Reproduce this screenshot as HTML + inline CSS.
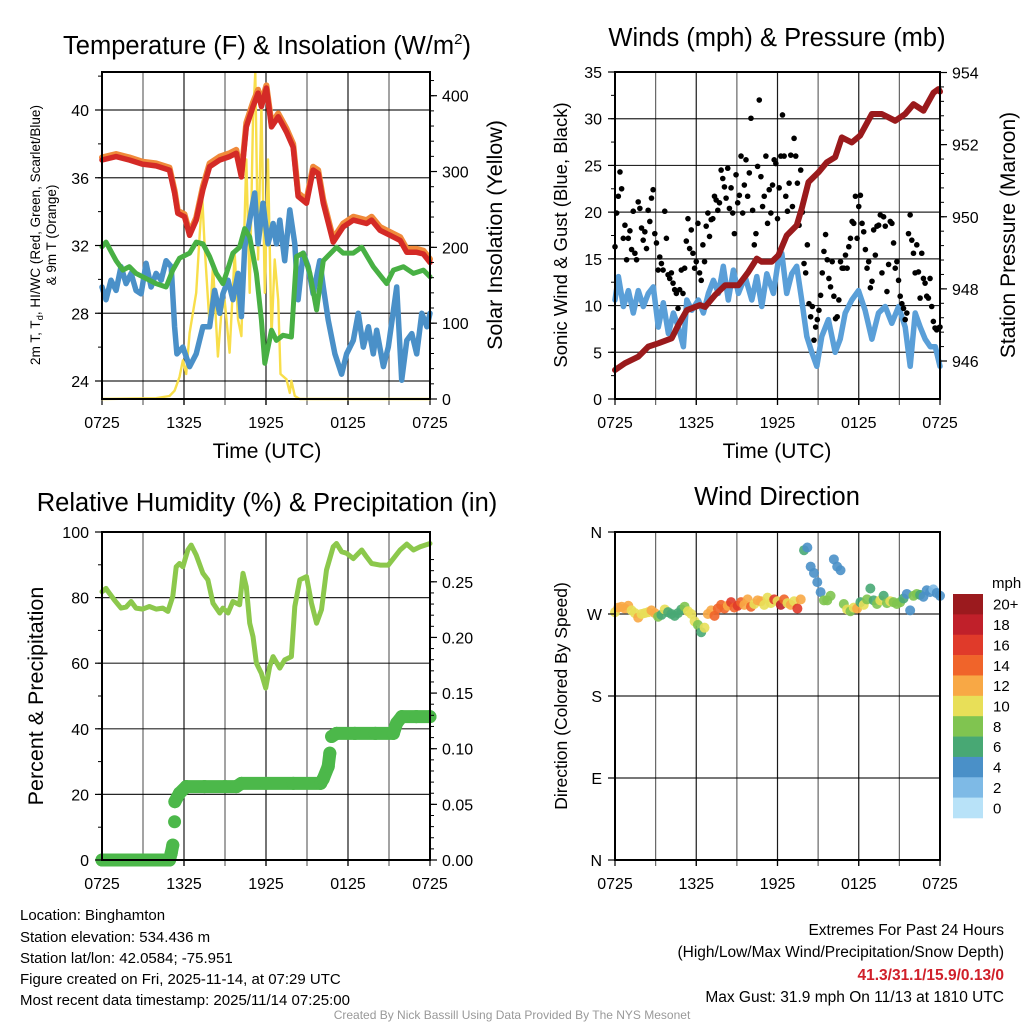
<!DOCTYPE html>
<html><head><meta charset="utf-8">
<style>
html,body{margin:0;padding:0;background:#fff;}
svg{display:block;font-family:"Liberation Sans",sans-serif;}
</style></head>
<body>
<svg id="root" width="1024" height="1024" viewBox="0 0 1024 1024" xmlns="http://www.w3.org/2000/svg">
<g id="static" font-family="Liberation Sans, sans-serif" fill="#000">
<text x="267" y="54" font-size="25.5" text-anchor="middle">Temperature (F) &amp; Insolation (W/m<tspan font-size="15" dy="-10">2</tspan><tspan dy="10">)</tspan></text>
<text x="777" y="46" font-size="25.5" text-anchor="middle">Winds (mph) &amp; Pressure (mb)</text>
<text x="267" y="511" font-size="25.5" text-anchor="middle">Relative Humidity (%) &amp; Precipitation (in)</text>
<text x="777" y="505" font-size="25.5" text-anchor="middle">Wind Direction</text>
<text x="267" y="458" font-size="21" text-anchor="middle">Time (UTC)</text>
<text x="777" y="458" font-size="21" text-anchor="middle">Time (UTC)</text>
<text transform="translate(40,235) rotate(-90)" font-size="13.5" text-anchor="middle">2m T, T<tspan font-size="9.5" dy="3">d</tspan><tspan dy="-3">, HI/WC (Red, Green, Scarlet/Blue)</tspan></text>
<text transform="translate(56,235) rotate(-90)" font-size="13.5" text-anchor="middle">&amp; 9m T (Orange)</text>
<text transform="translate(502,235) rotate(-90)" font-size="21.5" text-anchor="middle">Solar Insolation (Yellow)</text>
<text transform="translate(567,235) rotate(-90)" font-size="18.5" text-anchor="middle">Sonic Wind &amp; Gust (Blue, Black)</text>
<text transform="translate(1015,235) rotate(-90)" font-size="21" text-anchor="middle">Station Pressure (Maroon)</text>
<text transform="translate(43,696) rotate(-90)" font-size="21.5" text-anchor="middle">Percent &amp; Precipitation</text>
<text transform="translate(567,696) rotate(-90)" font-size="17.5" text-anchor="middle">Direction (Colored By Speed)</text>
<g font-size="15">
<text x="20" y="920">Location: Binghamton</text>
<text x="20" y="942">Station elevation: 534.436 m</text>
<text x="20" y="963">Station lat/lon: 42.0584; -75.951</text>
<text x="20" y="984">Figure created on Fri, 2025-11-14, at 07:29 UTC</text>
<text x="20" y="1005">Most recent data timestamp: 2025/11/14 07:25:00</text>
</g>
<g font-size="15.5" text-anchor="end">
<text x="1004" y="935">Extremes For Past 24 Hours</text>
<text x="1004" y="957">(High/Low/Max Wind/Precipitation/Snow Depth)</text>
<text x="1004" y="980" fill="#d0202a" font-weight="bold">41.3/31.1/15.9/0.13/0</text>
<text x="1004" y="1002">Max Gust: 31.9 mph On 11/13 at 1810 UTC</text>
</g>
<text x="512" y="1019" font-size="12" fill="#999" text-anchor="middle">Created By Nick Bassill Using Data Provided By The NYS Mesonet</text>
<text x="992" y="588" font-size="15">mph</text>
</g>
<g id="dyn"></g>
</svg>
<script>
// ---------- DATA ----------
const tempHours = [0,1.03,2.0,2.98,3.96,4.94,5.31,5.55,6.04,6.41,6.89,7.38,7.87,8.61,9.34,9.83,10.2,10.56,11.05,11.42,11.66,12.03,12.4,12.89,13.5,13.99,14.35,14.96,15.45,15.82,16.19,16.92,17.65,18.39,19.36,19.73,20.34,21.08,21.81,22.3,23.03,23.52,24];
const temp2m = [37.05,37.25,37.05,36.8,36.7,36.45,35.1,33.9,33.7,32.6,33.5,35.3,36.65,37.05,37.25,37.45,36.05,39.0,40.2,41.0,40.2,41.3,39.0,39.6,38.7,37.8,34.9,34.5,36.45,36.25,34.5,32.2,33.1,33.5,33.3,33.5,32.9,32.6,32.3,31.6,31.6,31.5,31.0];
const temp9m = [37.2,37.4,37.2,36.95,36.85,36.6,35.25,34.05,33.85,32.75,33.65,35.5,36.85,37.25,37.45,37.65,36.2,39.25,40.45,41.2,40.45,41.45,39.2,39.8,38.9,38.0,35.1,34.7,36.65,36.45,34.7,32.4,33.3,33.7,33.5,33.7,33.1,32.8,32.5,31.8,31.8,31.7,31.2];
const dewHours = [0,0.29,1.03,1.52,2.0,2.49,2.98,3.96,4.69,5.18,5.67,6.41,6.89,7.38,7.87,8.36,8.85,9.1,9.58,10.07,10.44,10.81,11.3,11.66,11.91,12.4,12.76,13.25,13.86,14.23,14.72,15.21,15.7,16.19,17.16,17.65,18.39,19.0,19.85,20.83,21.32,22.05,22.79,23.52,24];
const dewpoint = [31.93,32.2,31.1,30.55,30.75,30.35,30.15,29.75,29.55,30.55,31.25,31.55,32.2,32.1,31.35,30.35,29.75,30.35,31.55,31.9,33.0,32.5,30.35,27.6,25.05,27.0,26.4,26.7,26.6,31.35,31.55,30.35,28.2,31.1,31.9,31.55,31.55,31.9,30.75,29.75,30.55,30.75,30.35,30.55,30.15];
const wcHours = [0,0.29,0.66,1.03,1.39,1.76,2.13,2.49,2.86,3.23,3.59,3.96,4.33,4.69,5.06,5.31,5.48,5.92,6.41,6.89,7.38,7.87,8.24,8.61,8.85,9.22,9.58,9.95,10.2,10.44,10.81,11.17,11.42,11.78,12.15,12.52,12.76,13.01,13.37,13.74,14.11,14.35,14.72,15.09,15.45,15.94,16.19,16.55,17.04,17.53,17.9,18.39,18.75,19.12,19.49,19.85,20.1,20.59,20.95,21.56,21.93,22.3,22.67,23.03,23.4,23.77,24];
const windChill = [29.55,28.8,29.95,29.35,30.75,29.75,30.35,29.35,29.15,30.95,29.55,30.35,29.95,31.1,30.75,27.2,25.6,26.0,24.85,25.6,27.2,27.2,29.35,28.0,29.15,29.95,28.8,30.35,27.8,31.9,33.5,35.1,32.1,34.5,32.1,33.3,32.1,33.5,31.1,34.1,32.1,28.8,31.55,30.75,29.15,31.1,29.55,27.6,25.6,24.4,25.6,26.4,28.0,26.0,27.2,25.6,27.0,24.85,26.0,29.55,24.05,26.4,26.8,25.6,28.0,27.2,28.0];
const solarHours = [0,3.96,4.94,5.31,5.67,5.92,6.16,6.41,6.89,7.14,7.33,7.51,7.87,8.12,8.48,8.73,8.97,9.34,9.71,9.95,10.2,10.37,10.56,10.81,11.05,11.22,11.42,11.66,11.91,12.15,12.4,12.64,12.89,13.06,13.5,13.74,13.86,14.11,14.47,24];
const solar = [0,1,4,11,29,51,33,87,140,215,268,202,97,176,56,113,131,61,193,105,83,193,316,140,369,431,184,387,140,316,83,184,131,33,26,8,24,4,0,0];

const presHours = [0,0.74,1.72,2.46,3.2,4.19,4.68,5.3,6.28,6.65,7.39,8.13,9.11,9.85,10.47,10.84,11.58,12.07,12.68,13.42,13.79,14.29,15.02,15.64,16.26,16.75,17.49,18.1,18.97,19.7,20.69,21.43,22.04,22.78,23.52,23.89,24];
const pressure = [945.75,945.94,946.12,946.4,946.49,946.63,947.0,947.41,947.55,947.5,947.83,948.1,948.1,948.47,948.84,948.75,948.75,948.93,949.48,949.76,950.22,950.96,951.23,951.51,951.65,952.2,952.06,952.25,952.85,952.85,952.66,952.85,953.12,952.94,953.44,953.54,953.47];
const windHours = [0,0.25,0.62,0.99,1.35,1.72,2.09,2.46,2.83,3.2,3.57,3.94,4.31,4.68,5.05,5.3,5.67,6.16,6.53,6.9,7.27,7.64,8.0,8.37,8.74,9.11,9.61,10.1,10.47,10.84,11.21,11.7,12.07,12.32,12.68,13.05,13.42,13.79,14.16,14.53,14.9,15.27,15.76,16.26,16.63,17.0,17.49,17.98,18.47,18.97,19.46,19.95,20.44,20.94,21.43,21.8,22.17,22.54,22.91,23.28,23.65,24];
const windSpeed = [10.6,13.1,9.9,11.6,9.2,11.6,9.9,11.3,12.0,7.7,10.3,7.0,9.2,7.7,5.6,10.6,9.5,10.6,9.2,11.3,12.7,11.3,14.2,10.6,13.8,11.3,13.1,10.6,13.1,9.9,13.4,11.3,14.9,15.6,11.3,13.4,14.2,10.6,6.7,5.0,3.5,6.7,8.5,5.0,6.4,9.2,10.6,11.6,9.5,6.4,9.2,9.9,8.1,9.9,7.7,3.5,9.2,7.7,6.4,5.6,5.6,3.5];
const gustStepHours = 24/196;
const gusts = [16.3,19.9,21.7,24.3,22.5,17.2,18.6,14.9,17.2,18.0,16.0,20.1,15.6,14.9,21.1,20.4,18.3,17.0,17.9,16.1,20.2,19.0,21.5,22.4,17.7,16.7,13.8,15.2,14.5,13.8,20.1,17.2,13.3,12.9,13.5,12.4,11.7,11.3,9.7,11.7,13.8,11.3,14.0,16.9,19.3,16.1,18.1,15.6,14.0,14.7,18.8,13.5,12.7,16.5,14.7,18.5,19.9,17.4,19.2,19.3,21.7,21.3,20.2,21.0,24.5,23.6,22.7,21.5,24.7,20.4,22.6,19.9,17.7,24.0,21.0,21.8,26.0,19.9,22.9,25.6,21.7,24.2,30.05,20.2,16.5,17.7,24.9,32.0,23.8,20.6,21.7,26.0,18.8,22.4,19.9,22.9,25.6,25.2,19.3,22.6,26.0,30.4,26.0,21.7,20.1,23.1,26.1,20.6,27.9,26.0,23.1,18.6,24.5,20.0,14.5,13.5,16.5,10.2,8.8,9.9,6.3,7.7,8.5,9.5,11.1,13.5,15.8,17.6,14.9,12.9,12.0,14.7,11.0,8.6,8.8,10.6,14.7,14.0,14.0,15.4,14.0,16.3,17.2,19.0,18.8,21.7,17.2,20.6,21.8,18.8,17.9,16.0,14.0,14.7,11.9,12.6,18.1,15.4,18.5,18.6,19.7,13.5,19.5,18.5,11.5,14.4,19.0,18.8,16.7,14.0,14.7,12.7,11.0,10.2,9.7,8.5,9.2,17.7,19.7,17.0,15.6,13.5,16.5,13.6,10.8,15.6,12.9,12.4,11.0,10.8,12.9,9.9,8.3,7.6,7.4,7.6,7.7];

const rhHours = [0,0.29,0.54,0.9,1.39,1.76,2.13,2.49,2.98,3.47,3.96,4.45,4.82,5.18,5.43,5.67,5.92,6.28,6.53,6.89,7.38,7.75,8.12,8.61,8.85,9.22,9.58,10.07,10.32,10.56,10.81,11.05,11.3,11.66,11.98,12.27,12.52,13.01,13.37,13.86,14.11,14.47,14.96,15.33,15.7,16.06,16.43,16.92,17.16,17.53,17.9,18.39,19.0,19.36,19.73,20.34,20.95,21.32,21.81,22.3,22.79,23.28,24];
const rh = [81.8,82.8,81.3,79.3,76.8,77.1,78.8,76.8,76.5,77.3,76.5,76.8,75.8,80.4,89.4,90.4,89.4,94.5,96.0,93.0,87.4,85.4,78.3,75.3,76.8,75.3,78.8,77.8,87.4,83.3,72.2,68.1,60.0,56.9,52.4,59.0,62.0,58.5,61.0,62.0,77.3,85.4,86.4,78.3,72.2,76.3,88.4,95.5,96.5,94.0,93.5,91.9,94.5,92.4,90.4,89.9,89.9,91.9,94.5,96.3,94.5,95.5,96.5];
const precipHours = [0,1,2,3,4,4.94,5.06,5.18,5.31,5.33,5.67,6.16,7.5,9,9.83,10.2,12,14,16.0,16.19,16.55,16.67,16.8,17.16,18.5,20,21.32,21.56,21.93,23,24];
const precip = [0,0,0,0,0,0,0.006,0.0134,0.0344,0.0524,0.060,0.0659,0.0659,0.0659,0.0659,0.0689,0.0689,0.0689,0.0689,0.073,0.084,0.096,0.111,0.1138,0.1138,0.1138,0.1138,0.123,0.1288,0.1288,0.1288];

const dirStepHours = 24/98;
const direction = [272,277,278,276,279,274,271,266,270,271,272,274,271,267,269,275,272,270,268,271,275,278,273,270,262,258,250,255,270,274,268,276,280,276,279,283,277,279,283,280,286,278,281,285,284,280,288,282,286,284,280,286,282,280,284,276,286,340,343,322,315,305,294,285,285,290,330,322,318,281,275,273,277,276,283,280,286,298,285,281,285,290,282,284,283,281,283,287,292,274,290,292,291,289,296,294,297,293,290];
const dirSpeed = [11,13,12,13,13,10,11,12,10,10,11,13,12,8,7,10,6,6,6,6,6,8,10,10,10,9,7,10,13,13,15,15,14,15,13,16,14,17,14,13,12,15,10,12,12,10,11,11,16,11,18,15,11,12,10,16,12,7,4,5,4,4,4,8,8,8,4,4,5,8,10,9,11,12,7,10,8,6,7,8,10,6,8,10,8,8,8,6,4,4,8,8,6,4,4,4,3,4,4];
const speedLabels = ["20+","18","16","14","12","10","8","6","4","2","0"];
const speedColors = ["#9b1a1e","#c0202a","#e03a2a","#f0642a","#f8a845","#e8df58","#80c450","#48a874","#4a90c8","#7ebae6","#b8e2f8"];

const timeTickLabels = ["0725","1325","1925","0125","0725"];
const tempTicks = [24,28,32,36,40];
const solarTicks = [0,100,200,300,400];
const windTicks = [0,5,10,15,20,25,30,35];
const presTicks = [946,948,950,952,954];
const rhTicks = [0,20,40,60,80,100];
const precipTicks = [0,0.05,0.10,0.15,0.20,0.25];
const dirTicks = [0,90,180,270,360];
const dirTickLabels = ["N","E","S","W","N"];

// ---------- RENDER ----------
const NS = "http://www.w3.org/2000/svg";
const dyn = document.getElementById("dyn");
function mk(tag, attrs, parent) {
  const e = document.createElementNS(NS, tag);
  for (const k in attrs) e.setAttribute(k, attrs[k]);
  (parent || dyn).appendChild(e);
  return e;
}
function lin(d0, d1, r0, r1) { return v => r0 + (v - d0) / (d1 - d0) * (r1 - r0); }

const panels = {
  temp: {x0:102, x1:430, yt:72, yb:399},
  wind: {x0:615, x1:940, yt:72, yb:399},
  rh:   {x0:102, x1:430, yt:532, yb:860},
  dir:  {x0:615, x1:940, yt:532, yb:860}
};
const TICKFS = 16;

function frame(p, name, withTimeLabels) {
  const g = mk("g", {});
  
  
  const xs = lin(0, 24, p.x0, p.x1);
  for (let h = 3; h < 24; h += 3) {
    const l = mk("line", {x1: xs(h), x2: xs(h), y1: p.yt, y2: p.yb + 6, stroke: "#000", "stroke-width": 1.2, "stroke-opacity": (h % 6 === 0 ? 0.9 : 0.6)}, g);
    
    
  }
  for (let i = 0; i < timeTickLabels.length; i++) {
    const h = i * 6;
    const t = mk("line", {x1: xs(h), x2: xs(h), y1: p.yb, y2: p.yb + 6, stroke: "#000", "stroke-width": 1.2}, g);
    
    
    if (withTimeLabels) {
      const tx = mk("text", {x: xs(h), y: p.yb + 29, "font-size": TICKFS, "text-anchor": "middle"}, g);
      tx.textContent = timeTickLabels[i];
      
      
    }
  }
  return {g, xs};
}
function border(p, name) {
  const r = mk("rect", {x: p.x0, y: p.yt, width: p.x1 - p.x0, height: p.yb - p.yt, fill: "none", stroke: "#000", "stroke-width": 2});
  
  
}
function hgrid(p, ys, ticks, name) {
  ticks.forEach(v => {
    const l = mk("line", {x1: p.x0, x2: p.x1, y1: ys(v), y2: ys(v), stroke: "#000", "stroke-width": 1.2, "stroke-opacity": 0.85});
    
    
  });
}
function leftAxis(p, ys, ticks, labels, minorStep, name) {
  ticks.forEach((v, i) => {
    const l = mk("line", {x1: p.x0 - 7, x2: p.x0, y1: ys(v), y2: ys(v), stroke: "#000", "stroke-width": 1.2});
    
    
    const t = mk("text", {x: p.x0 - 13, y: ys(v) + 6, "font-size": TICKFS, "text-anchor": "end"});
    t.textContent = labels ? labels[i] : String(v);
    
    
  });
  if (minorStep) {
    for (let v = ticks[0] - minorStep; v <= ticks[ticks.length - 1] + minorStep; v += minorStep) {
      const y = ys(v);
      if (y < p.yt - 0.5 || y > p.yb + 0.5) continue;
      const l = mk("line", {x1: p.x0 - 4, x2: p.x0, y1: y, y2: y, stroke: "#000", "stroke-width": 1});
      
      
    }
  }
}
function rightAxis(p, ys, ticks, fmt, minorStep, name) {
  ticks.forEach(v => {
    const l = mk("line", {x1: p.x1, x2: p.x1 + 7, y1: ys(v), y2: ys(v), stroke: "#000", "stroke-width": 1.2});
    
    
    const t = mk("text", {x: p.x1 + 12, y: ys(v) + 6, "font-size": TICKFS});
    t.textContent = fmt(v);
    
    
  });
  if (minorStep) {
    for (let v = ticks[0]; v <= ticks[ticks.length - 1] + minorStep * 3; v += minorStep) {
      const y = ys(v);
      if (y < p.yt - 0.5 || y > p.yb + 0.5) continue;
      const l = mk("line", {x1: p.x1, x2: p.x1 + 4, y1: y, y2: y, stroke: "#000", "stroke-width": 1});
      
      
    }
  }
}
function line(times, vals, xs, ys, color, w, name) {
  const d = times.map((t, i) => (i ? "L" : "M") + xs(t).toFixed(1) + "," + ys(vals[i]).toFixed(1)).join("");
  const pth = mk("path", {d, fill: "none", stroke: color, "stroke-width": w, "stroke-linejoin": "round", "stroke-linecap": "round"});
  
  
  return pth;
}

// Panel 1
{
  const p = panels.temp;
  const {xs} = frame(p, "temperature", true);
  const ys = lin(24, 40, 381, 110);
  const ysR = lin(0, 400, 399, 95.7);
  hgrid(p, ys, tempTicks, "temperature");
  line(solarHours, solar, xs, ysR, "#f8de4a", 2.4, "solar-insolation-line");
  line(wcHours, windChill, xs, ys, "#4a90c8", 5.5, "wind-chill-line");
  line(dewHours, dewpoint, xs, ys, "#48b044", 5, "dewpoint-line");
  line(tempHours, temp9m, xs, ys, "#f08a3a", 6, "temperature-9m-line");
  line(tempHours, temp2m, xs, ys, "#d42a26", 5.5, "temperature-2m-line");
  border(p, "temperature");
  leftAxis(p, ys, tempTicks, null, 2, "temperature-y");
  rightAxis(p, ysR, solarTicks, v => String(v), 20, "insolation-y");
}
// Panel 2
{
  const p = panels.wind;
  const {xs} = frame(p, "winds", true);
  const ys = lin(0, 35, 399, 72);
  const ysR = lin(946, 954, 361, 72.5);
  hgrid(p, ys, windTicks.slice(1, -1), "wind");
  line(windHours, windSpeed, xs, ys, "#5a9fd8", 5.5, "sonic-wind-line");
  const gg = mk("g", {});
  
  
  gusts.forEach((v, i) => {
    const c = mk("circle", {cx: xs(i * gustStepHours), cy: ys(v), r: 2.8, fill: "#000"}, gg);
    
    
  });
  line(presHours, pressure, xs, ysR, "#9a1a1c", 6, "station-pressure-line");
  border(p, "winds");
  leftAxis(p, ys, windTicks, null, 2.5, "wind-y");
  rightAxis(p, ysR, presTicks, v => String(v), 0.4, "pressure-y");
}
// Panel 3
{
  const p = panels.rh;
  const {xs} = frame(p, "humidity", true);
  const ys = lin(0, 100, 860, 532);
  const ysR = lin(0, 0.25, 860, 581.8);
  hgrid(p, ys, rhTicks.slice(1, -1), "humidity");
  line(rhHours, rh, xs, ys, "#8cc84c", 5, "relative-humidity-line");
  const pg = mk("g", {});
  
  
  for (let i = 1; i < precip.length; i++) {
    if (Math.abs(precip[i] - precip[i - 1]) < 0.012) {
      const s = mk("line", {x1: xs(precipHours[i - 1]), y1: ysR(precip[i - 1]), x2: xs(precipHours[i]), y2: ysR(precip[i]), stroke: "#4cb84a", "stroke-width": 13, "stroke-linecap": "round"}, pg);
      
      
    }
  }
  precip.forEach((v, i) => {
    const c = mk("circle", {cx: xs(precipHours[i]), cy: ysR(v), r: 6.5, fill: "#4cb84a"}, pg);
    
    
  });
  border(p, "humidity");
  leftAxis(p, ys, rhTicks, null, 10, "humidity-y");
  rightAxis(p, ysR, precipTicks, v => v.toFixed(2), 0.01, "precipitation-y");
}
// Panel 4
{
  const p = panels.dir;
  const {xs} = frame(p, "wind-direction", true);
  const ys = lin(0, 360, 860, 532);
  hgrid(p, ys, dirTicks, "direction");
  const dg = mk("g", {});
  
  
  direction.forEach((v, i) => {
    const s = dirSpeed[i];
    const idx = Math.max(0, Math.min(10, 10 - Math.floor(s / 2)));
    const c = mk("circle", {cx: xs(i * dirStepHours), cy: ys(v), r: 5, fill: speedColors[idx], "fill-opacity": 0.9}, dg);
    
    
  });
  border(p, "wind-direction");
  leftAxis(p, ys, dirTicks, dirTickLabels, 0, "direction-y");
  const cb = mk("g", {});
  
  
  const bh = (818 - 594) / speedColors.length;
  speedColors.forEach((c, i) => {
    const r = mk("rect", {x: 953, y: 594 + i * bh, width: 30, height: bh + 0.3, fill: c}, cb);
    
    
    const t = mk("text", {x: 993, y: 594 + i * bh + bh / 2 + 5.5, "font-size": 15}, cb);
    t.textContent = speedLabels[i];
    
    
  });
}
</script>
</body></html>
